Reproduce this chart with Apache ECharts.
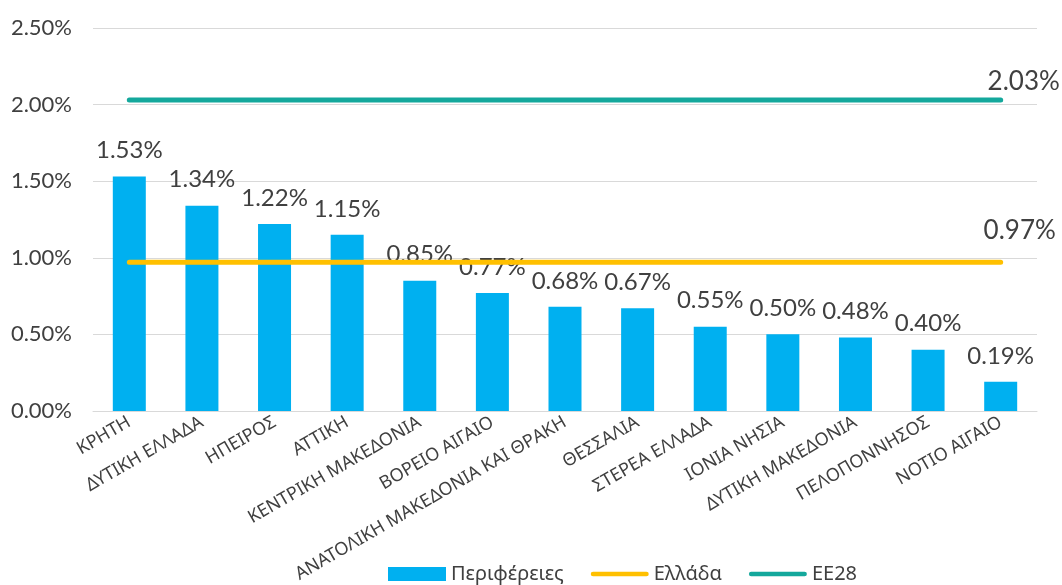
<!DOCTYPE html>
<html><head><meta charset="utf-8">
<script src="https://cdn.jsdelivr.net/npm/echarts@6/dist/echarts.min.js"></script>
<style>html,body{margin:0;padding:0;background:#fff}#c{width:1062px;height:585px}</style>
</head><body><div id="c"></div>
<script>
const categories = ['ΚΡΗΤΗ','ΔΥΤΙΚΗ ΕΛΛΑΔΑ','ΗΠΕΙΡΟΣ','ΑΤΤΙΚΗ','ΚΕΝΤΡΙΚΗ ΜΑΚΕΔΟΝΙΑ','ΒΟΡΕΙΟ ΑΙΓΑΙΟ','ΑΝΑΤΟΛΙΚΗ ΜΑΚΕΔΟΝΙΑ ΚΑΙ ΘΡΑΚΗ','ΘΕΣΣΑΛΙΑ','ΣΤΕΡΕΑ ΕΛΛΑΔΑ','ΙΟΝΙΑ ΝΗΣΙΑ','ΔΥΤΙΚΗ ΜΑΚΕΔΟΝΙΑ','ΠΕΛΟΠΟΝΝΗΣΟΣ','ΝΟΤΙΟ ΑΙΓΑΙΟ'];
const regions = [1.53,1.34,1.22,1.15,0.85,0.77,0.68,0.67,0.55,0.50,0.48,0.40,0.19];
const greece = [0.97,0.97,0.97,0.97,0.97,0.97,0.97,0.97,0.97,0.97,0.97,0.97,0.97];
const eu28 = [2.03,2.03,2.03,2.03,2.03,2.03,2.03,2.03,2.03,2.03,2.03,2.03,2.03];
const seriesNames = ['Περιφέρειες','Ελλάδα','ΕΕ28'];

const NUM = 'Lato, "Noto Sans", sans-serif';
const GR = '"Noto Sans", "Open Sans", sans-serif';
const TXT = '#404040';
const LINE_ICON = 'path://M2.5,0H60.5A2.5,2.5 0 0 1 60.5,5H2.5A2.5,2.5 0 0 1 2.5,0Z';
const pct = p => p.value.toFixed(2) + '%';
const chart = echarts.init(document.getElementById('c'));
chart.setOption({
  animation:false,
  grid:{left:93,right:25,top:28,bottom:172},
  legend:{
    top:559, left:383, itemGap:27, itemWidth:58, itemHeight:14,
    textStyle:{fontFamily:GR,fontSize:20,color:TXT},
    data:[{name:seriesNames[0],icon:'rect'},{name:seriesNames[1],icon:LINE_ICON},{name:seriesNames[2],icon:LINE_ICON}]
  },
  xAxis:{
    type:'category', data:categories,
    axisLine:{lineStyle:{color:'#d9d9d9',width:1}},
    axisTick:{show:false},
    axisLabel:{rotate:30,interval:0,fontFamily:GR,fontSize:18,color:TXT,margin:10}
  },
  yAxis:{
    type:'value', min:0, max:2.5, interval:0.5,
    axisLine:{show:false}, axisTick:{show:false},
    splitLine:{lineStyle:{color:'#d9d9d9',width:1}},
    axisLabel:{formatter:v=>v.toFixed(2)+'%',fontFamily:NUM,fontSize:22,color:TXT,margin:21}
  },
  series:[
    {name:seriesNames[0],type:'bar',data:regions,barWidth:33,
     itemStyle:{color:'#00B0F0'},
     label:{show:true,position:'top',distance:14,formatter:pct,fontFamily:NUM,fontSize:24,color:TXT}},
    {name:seriesNames[1],type:'line',data:greece,symbol:'none',
     lineStyle:{color:'#FFC000',width:5,cap:'round'},itemStyle:{color:'#FFC000'},
     endLabel:{show:true,formatter:pct,fontFamily:NUM,fontSize:26,color:TXT,align:'center',verticalAlign:'middle',offset:[11,-32]}},
    {name:seriesNames[2],type:'line',data:eu28,symbol:'none',
     lineStyle:{color:'#14A89C',width:5,cap:'round'},itemStyle:{color:'#14A89C'},
     endLabel:{show:true,formatter:pct,fontFamily:NUM,fontSize:26,color:TXT,align:'center',verticalAlign:'middle',offset:[15,-18]}}
  ]
});
</script></body></html>
